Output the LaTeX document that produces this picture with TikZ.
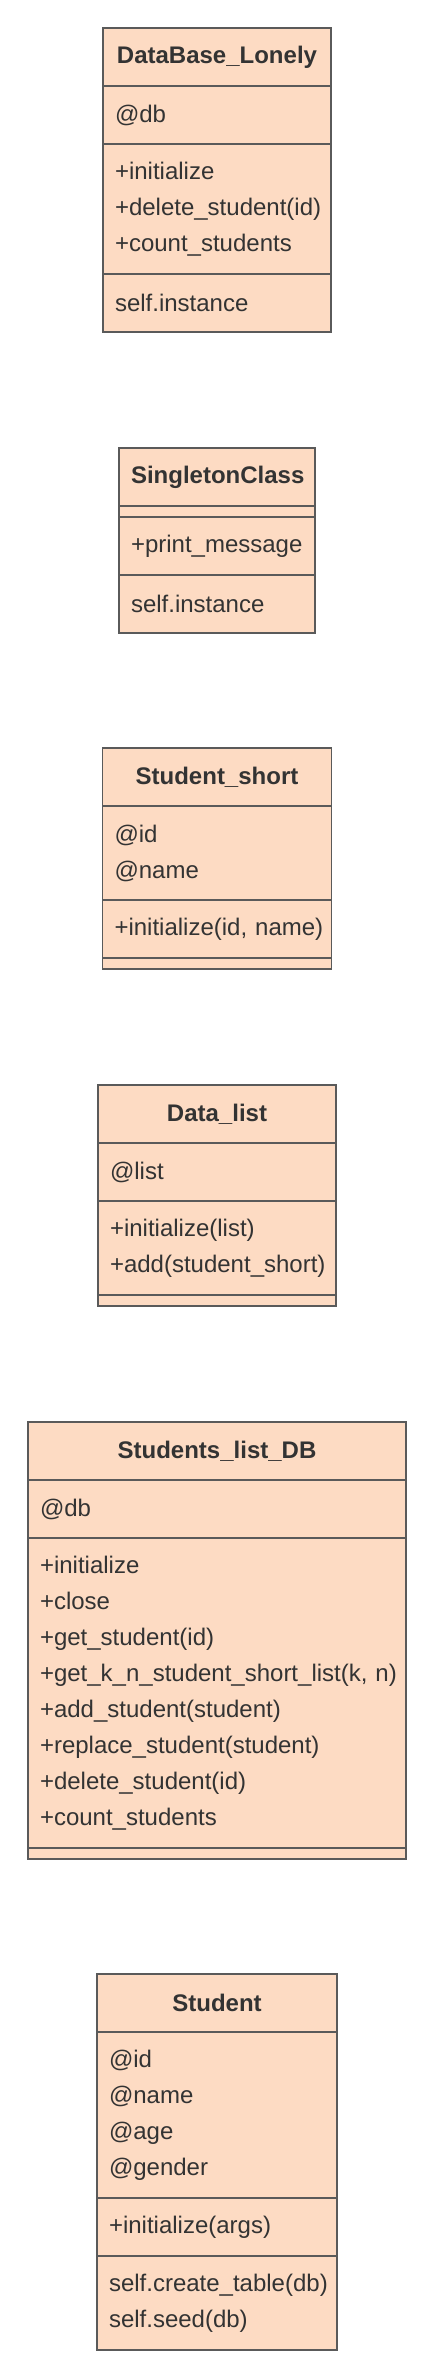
\documentclass[tikz,border=0pt]{standalone}
\usepackage{fontspec}
\setmainfont{Liberation Sans}
\usetikzlibrary{positioning}
\definecolor{classfill}{HTML}{FDDBC3}
\definecolor{classline}{HTML}{5A5A5A}
\definecolor{classtext}{HTML}{333333}

\begin{document}
\begin{tikzpicture}[x=1pt, y=-1pt, node distance=0pt,
box/.style={draw=classline, fill=classfill, line width=1.5pt, text=classtext, outer sep=0pt,
  inner xsep=12pt, inner ysep=0pt, font=\fontsize{24}{36}\selectfont, align=left},
head/.style={box, font=\fontsize{24}{36}\selectfont\bfseries, align=center, minimum height=58pt},
rows/.style={box, minimum height=#1*36pt+22pt},
blank/.style={box, minimum height=11pt}]
\useasboundingbox (0,0) rectangle (434,2377);

% DataBase_Lonely
\node[head, text width=204pt, anchor=north] (lonely) at (217,28) {DataBase\_Lonely};
\node[rows=1, text width=204pt, below=of lonely] (lonely-attr) {@db};
\node[rows=3, text width=204pt, below=of lonely-attr] (lonely-meth) {+initialize\\+delete\_student(id)\\+count\_students};
\node[rows=1, text width=204pt, below=of lonely-meth] (lonely-self) {self.instance};

% SingletonClass
\node[head, text width=172pt, anchor=north] (single) at (217,448) {SingletonClass};
\node[blank, text width=172pt, below=of single] (single-attr) {};
\node[rows=1, text width=172pt, below=of single-attr] (single-meth) {+print\_message};
\node[rows=1, text width=172pt, below=of single-meth] (single-self) {self.instance};

% Student_short
\node[head, text width=205pt, anchor=north] (short) at (217,748) {Student\_short};
\node[rows=2, text width=205pt, below=of short] (short-attr) {@id\\@name};
\node[rows=1, text width=205pt, below=of short-attr] (short-meth) {+initialize(id,~name)};
\node[blank, text width=205pt, below=of short-meth] (short-self) {};

% Data_list
\node[head, text width=214pt, anchor=north] (data) at (217,1085) {Data\_list};
\node[rows=1, text width=214pt, below=of data] (data-attr) {@list};
\node[rows=2, text width=214pt, below=of data-attr] (data-meth) {+initialize(list)\\+add(student\_short)};
\node[blank, text width=214pt, below=of data-meth] (data-self) {};

% Students_list_DB
\node[head, text width=354pt, anchor=north] (listdb) at (217,1422) {Students\_list\_DB};
\node[rows=1, text width=354pt, below=of listdb] (listdb-attr) {@db};
\node[rows=8, text width=354pt, below=of listdb-attr] (listdb-meth) {+initialize\\+close\\+get\_student(id)\\+get\_k\_n\_student\_short\_list(k,~n)\\+add\_student(student)\\+replace\_student(student)\\+delete\_student(id)\\+count\_students};
\node[blank, text width=354pt, below=of listdb-meth] (listdb-self) {};

% Student
\node[head, text width=216pt, anchor=north] (student) at (217,1974) {Student};
\node[rows=4, text width=216pt, below=of student] (student-attr) {@id\\@name\\@age\\@gender};
\node[rows=1, text width=216pt, below=of student-attr] (student-meth) {+initialize(args)};
\node[rows=2, text width=216pt, below=of student-meth] (student-self) {self.create\_table(db)\\self.seed(db)};
\end{tikzpicture}
\end{document}
